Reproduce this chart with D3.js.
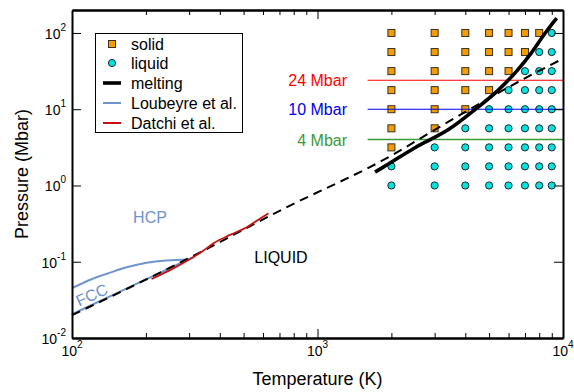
<!DOCTYPE html>
<html><head><meta charset="utf-8">
<script src="https://cdn.jsdelivr.net/npm/d3@7"></script>
<style>
body{margin:0;background:#fff;}
svg{font-family:"Liberation Sans",Arial,Helvetica,sans-serif;}
</style></head>
<body><svg id="c" width="574" height="392"></svg>
<script>
// ---- data ----
const gridT = [2000, 3000, 4000, 5000, 6000, 7000, 8000, 9000];
const gridP = [1, 1.78, 3.16, 5.62, 10, 17.8, 31.6, 56.2, 100];
// phase per pressure row (S = solid, L = liquid), one entry per gridT
const gridPhase = [
  ["L","L","L","L","L","L","L","L"],
  ["L","L","L","L","L","L","L","L"],
  ["S","L","L","L","L","L","L","L"],
  ["S","S","L","L","L","L","L","L"],
  ["S","S","S","L","L","L","L","L"],
  ["S","S","S","S","L","L","L","L"],
  ["S","S","S","S","S","L","L","L"],
  ["S","S","S","S","S","S","L","L"],
  ["S","S","S","S","S","S","S","L"]
];
const meltT = [1715, 1854, 2495, 3465, 4385, 5448, 6475, 7460, 8450, 9425];
const meltP = [1.50, 1.74, 3.13, 5.57, 9.91, 17.8, 31.6, 55.7, 99, 156];
const dashT = [100, 275, 726, 2005, 3062, 7180, 9570];
const dashP = [0.0199, 0.097, 0.493, 2.48, 5.57, 26.6, 42.9];
const loubHcpT = [100, 120, 143, 167, 201, 243, 298];
const loubHcpP = [0.045, 0.059, 0.072, 0.0845, 0.097, 0.104, 0.107];
const loubFccT = [100, 150, 200, 250, 298, 315];
const loubFccP = [0.0205, 0.0379, 0.0586, 0.0822, 0.107, 0.115];
const datchiT = [211, 255, 298, 340, 377, 440, 515, 570, 631];
const datchiP = [0.0594, 0.080, 0.1054, 0.137, 0.1745, 0.225, 0.283, 0.35, 0.431];
const isobarP = [24, 10, 4];
const isobarLabels = ["24 Mbar", "10 Mbar", "4 Mbar"];
const isobarT = [1600, 10000];
const xMajor = [100, 1000, 10000];
const xMajorExp = ["2", "3", "4"];
const xMinor = [200,300,400,500,600,700,800,900,2000,3000,4000,5000,6000,7000,8000,9000];
const yMajor = [0.01, 0.1, 1, 10, 100];
const yMajorExp = ["-2", "-1", "0", "1", "2"];
const legendLabels = ["solid", "liquid", "melting", "Loubeyre et al.", "Datchi et al."];

// ---- styles ----
const BLUE = "#6f93cb", RED = "#c81010", ORANGE = "#f59d00", CYAN = "#00e3e3";
const isobarColors = ["#ff0000", "#0000ee", "#3a9a3a"];

const svg = d3.select("#c");
const L = 72, R = 563, T = 10, B = 338;
const x = d3.scaleLog().domain([100, 10000]).range([L, R]);
const y = d3.scaleLog().domain([0.01, 200]).range([B, T]);

const gMark = svg.append("g");
gridP.forEach((p, i) => {
  gridT.forEach((t, j) => {
    if (gridPhase[i][j] === "S") {
      gMark.append("rect").attr("x", x(t) - 3.5).attr("y", y(p) - 3.5)
        .attr("width", 7).attr("height", 7)
        .attr("fill", ORANGE).attr("stroke", "#3a3020").attr("stroke-width", 1);
    } else {
      gMark.append("circle").attr("cx", x(t)).attr("cy", y(p)).attr("r", 3.6)
        .attr("fill", CYAN).attr("stroke", "#1a2a2a").attr("stroke-width", 1);
    }
  });
});

isobarP.forEach((p, i) => {
  svg.append("line").attr("x1", x(isobarT[0])).attr("x2", x(isobarT[1]))
    .attr("y1", y(p)).attr("y2", y(p))
    .attr("stroke", isobarColors[i]).attr("stroke-width", i === 2 ? 1.6 : 1.1);
  svg.append("text").attr("x", 347).attr("y", y(p) + 6)
    .attr("text-anchor", "end").attr("font-size", 16)
    .attr("fill", isobarColors[i]).text(isobarLabels[i]);
});

const line = d3.line().x(d => x(d[0])).y(d => y(d[1])).curve(d3.curveMonotoneX);
const zip = (a, b) => a.map((v, i) => [v, b[i]]);

svg.append("path").attr("d", line(zip(loubHcpT, loubHcpP)))
  .attr("fill", "none").attr("stroke", BLUE).attr("stroke-width", 2);
svg.append("path").attr("d", line(zip(loubFccT, loubFccP)))
  .attr("fill", "none").attr("stroke", BLUE).attr("stroke-width", 2);
svg.append("path").attr("d", line(zip(dashT, dashP)))
  .attr("fill", "none").attr("stroke", "#000").attr("stroke-width", 2)
  .attr("stroke-dasharray", "9,6");
svg.append("path").attr("d", line(zip(datchiT, datchiP)))
  .attr("fill", "none").attr("stroke", RED).attr("stroke-width", 1.8);
svg.append("path").attr("d", line(zip(meltT, meltP)))
  .attr("fill", "none").attr("stroke", "#000").attr("stroke-width", 3.6);

// annotations
svg.append("text").attr("x", 150).attr("y", 223).attr("text-anchor", "middle")
  .attr("font-size", 16).attr("fill", BLUE).text("HCP");
svg.append("text").attr("transform", "translate(94,300) rotate(-24)")
  .attr("text-anchor", "middle").attr("font-size", 16).attr("fill", BLUE).text("FCC");
svg.append("text").attr("x", 281).attr("y", 263).attr("text-anchor", "middle")
  .attr("font-size", 16).attr("fill", "#000").text("LIQUID");

// axes (ticks inward, all four sides)
function styleAxis(g) {
  g.select(".domain").attr("stroke", "#000").attr("stroke-width", 2);
  g.selectAll(".tick line").attr("stroke", "#000").attr("stroke-width", 1);
  g.selectAll(".tick text").remove();
}
svg.append("g").attr("transform", `translate(0,${B})`)
  .call(d3.axisBottom(x).tickValues(xMajor).tickSizeInner(-9).tickSizeOuter(0)).call(styleAxis);
svg.append("g").attr("transform", `translate(0,${B})`)
  .call(d3.axisBottom(x).tickValues(xMinor).tickSizeInner(-5).tickSizeOuter(0)).call(styleAxis);
svg.append("g").attr("transform", `translate(0,${T})`)
  .call(d3.axisTop(x).tickValues(xMajor).tickSizeInner(-9).tickSizeOuter(0)).call(styleAxis);
svg.append("g").attr("transform", `translate(0,${T})`)
  .call(d3.axisTop(x).tickValues(xMinor).tickSizeInner(-5).tickSizeOuter(0)).call(styleAxis);
svg.append("g").attr("transform", `translate(${L},0)`)
  .call(d3.axisLeft(y).tickValues(yMajor).tickSizeInner(-9).tickSizeOuter(0)).call(styleAxis);
svg.append("g").attr("transform", `translate(${R},0)`)
  .call(d3.axisRight(y).tickValues(yMajor).tickSizeInner(-9).tickSizeOuter(0)).call(styleAxis);

// tick labels with superscripts
xMajor.forEach((v, i) => {
  const t = svg.append("text").attr("x", x(v)).attr("y", 356)
    .attr("text-anchor", "middle").attr("font-size", 14).attr("fill", "#000");
  t.append("tspan").text("10");
  t.append("tspan").attr("dy", -8).attr("font-size", 10).text(xMajorExp[i]);
});
yMajor.forEach((v, i) => {
  const t = svg.append("text").attr("x", 66).attr("y", y(v) + 6)
    .attr("text-anchor", "end").attr("font-size", 14).attr("fill", "#000");
  t.append("tspan").text("10");
  t.append("tspan").attr("dy", -8).attr("font-size", 10).text(yMajorExp[i]);
});

svg.append("text").attr("x", (L + R) / 2).attr("y", 385).attr("text-anchor", "middle")
  .attr("font-size", 18).text("Temperature (K)");
svg.append("text").attr("transform", `translate(28,${(T + B) / 2}) rotate(-90)`)
  .attr("text-anchor", "middle").attr("font-size", 18).text("Pressure (Mbar)");

// legend
const lg = svg.append("g");
lg.append("rect").attr("x", 95.5).attr("y", 33.5).attr("width", 147).attr("height", 99)
  .attr("fill", "#fff").attr("stroke", "#000").attr("stroke-width", 1);
const rowY = [44, 63, 83, 103, 123];
lg.append("rect").attr("x", 108.5).attr("y", rowY[0] - 3.5).attr("width", 7).attr("height", 7)
  .attr("fill", ORANGE).attr("stroke", "#3a3020");
lg.append("circle").attr("cx", 112).attr("cy", rowY[1]).attr("r", 3.6)
  .attr("fill", CYAN).attr("stroke", "#1a2a2a");
lg.append("line").attr("x1", 103).attr("x2", 121).attr("y1", rowY[2]).attr("y2", rowY[2])
  .attr("stroke", "#000").attr("stroke-width", 3.6);
lg.append("line").attr("x1", 103).attr("x2", 121).attr("y1", rowY[3]).attr("y2", rowY[3])
  .attr("stroke", BLUE).attr("stroke-width", 2);
lg.append("line").attr("x1", 103).attr("x2", 121).attr("y1", rowY[4]).attr("y2", rowY[4])
  .attr("stroke", RED).attr("stroke-width", 2);
legendLabels.forEach((s, i) => {
  lg.append("text").attr("x", 131).attr("y", rowY[i] + 6).attr("font-size", 16).text(s);
});
</script></body></html>
